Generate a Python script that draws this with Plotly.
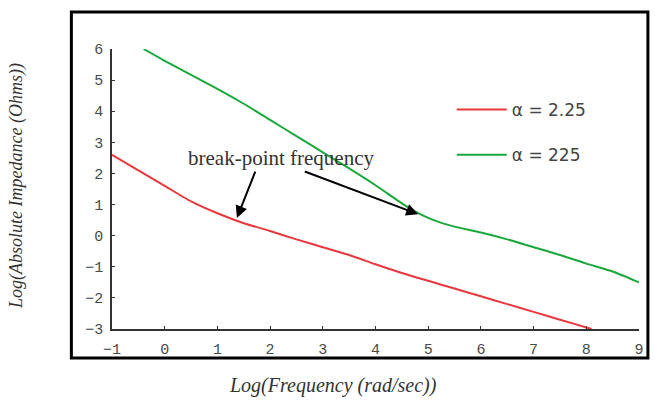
import plotly.graph_objects as go

# Data
red_x = [-1, -0.5, 0, 0.5, 1, 1.5, 2, 2.5, 3, 3.5, 4, 4.5, 5, 5.5, 6, 6.5, 7, 7.5, 8, 8.1]
red_y = [2.6, 2.1, 1.6, 1.1, 0.72, 0.4, 0.15, -0.12, -0.37, -0.62, -0.92, -1.2, -1.45, -1.7, -1.95, -2.2, -2.45, -2.7, -2.95, -3.0]
green_x = [-0.4, 0, 0.5, 1, 1.5, 2, 2.5, 3, 3.5, 4, 4.5, 4.75, 5, 5.25, 5.5, 6, 6.5, 7, 7.5, 8, 8.5, 9]
green_y = [6.0, 5.62, 5.17, 4.72, 4.24, 3.72, 3.2, 2.68, 2.16, 1.62, 1.04, 0.78, 0.57, 0.41, 0.29, 0.1, -0.12, -0.37, -0.62, -0.9, -1.15, -1.5]
red_name = "α = 2.25"
green_name = "α = 225"
x_ticks = [-1, 0, 1, 2, 3, 4, 5, 6, 7, 8, 9]
y_ticks = [-3, -2, -1, 0, 1, 2, 3, 4, 5, 6]
annot_text = "break-point frequency"
arrow_heads = [(1.37, 0.57), (4.81, 0.69)]
arrow_tails = [(1.73, 2.11), (2.63, 2.08)]

W, H = 655, 403
PX0, PX1, PY0, PY1 = 112, 644, 49, 329  # plot area in window pixels


def px(x):
    return (x - PX0) / (PX1 - PX0)


def py(y):
    return (PY1 - y) / (PY1 - PY0)


fig = go.Figure()
fig.add_trace(go.Scatter(x=red_x, y=red_y, mode="lines", name=red_name,
                         line=dict(color="#e8383d", width=2, shape="spline", smoothing=0.6),
                         legendgroup="r"))
fig.add_trace(go.Scatter(x=green_x, y=green_y, mode="lines", name=green_name,
                         line=dict(color="#1aa83c", width=2, shape="spline", smoothing=0.6),
                         legendgroup="g"))

axis_common = dict(showgrid=False, zeroline=False, showline=True, linecolor="#333",
                   linewidth=1.5, ticks="inside", ticklen=3, tickcolor="#333",
                   tickfont=dict(family="Liberation Mono", size=15, color="#4a4a4a"),
                   mirror=False)
fig.update_xaxes(range=[-1, 9], tickvals=x_ticks, ticklabelstandoff=5, **axis_common)
fig.update_yaxes(range=[-3, 6], tickvals=y_ticks, ticklabelstandoff=4, **axis_common)

annotations = []
for (hx, hy), (tx, ty) in zip(arrow_heads, arrow_tails):
    annotations.append(dict(x=hx, y=hy, ax=tx, ay=ty, xref="x", yref="y", axref="x", ayref="y",
                            text="", showarrow=True, arrowhead=2, arrowsize=1.2,
                            arrowwidth=2, arrowcolor="black"))
annotations.append(dict(x=2.21, y=2.5, xref="x", yref="y", text=annot_text, showarrow=False,
                        font=dict(family="Liberation Serif", size=21, color="#333")))
annotations.append(dict(x=px(335), y=py(385), xref="paper", yref="paper",
                        xanchor="center", yanchor="middle",
                        text="<i>Log(Frequency (rad/sec))</i>", showarrow=False,
                        font=dict(family="Liberation Serif", size=20, color="#333")))
annotations.append(dict(x=px(15), y=py(186), xref="paper", yref="paper",
                        xanchor="center", yanchor="middle",
                        text="<i>Log(Absolute Impedance (Ohms))</i>", showarrow=False, textangle=-90,
                        font=dict(family="Liberation Serif", size=18, color="#333")))

fig.update_layout(
    width=W, height=H,
    margin=dict(l=PX0, r=W - PX1, t=PY0, b=H - PY1),
    paper_bgcolor="white", plot_bgcolor="white",
    annotations=annotations,
    showlegend=True,
    legend=dict(x=px(455), y=py(92), xanchor="left", yanchor="top",
                font=dict(family="DejaVu Sans", size=17, color="#444"),
                tracegroupgap=20, bgcolor="rgba(0,0,0,0)", itemwidth=50),
    shapes=[dict(type="rect", xref="paper", yref="paper",
                 x0=px(71), x1=px(653), y0=py(358), y1=py(12),
                 line=dict(color="black", width=3), layer="below")],
)

fig.write_html("out.html", config={"displayModeBar": False},
               post_script="document.body.style.margin='0';document.body.style.overflow='hidden';")
